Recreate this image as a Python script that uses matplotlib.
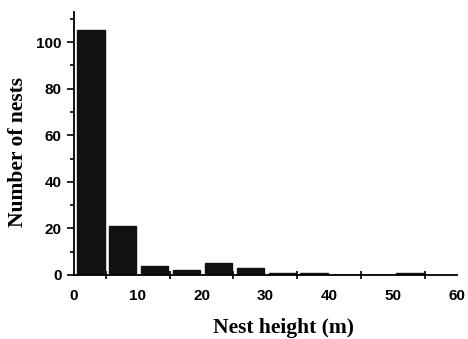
import matplotlib
matplotlib.use("Agg")
import matplotlib.pyplot as plt
from matplotlib.ticker import MultipleLocator, FixedLocator

# nest counts per 5 m height class
bin_starts = [0, 5, 10, 15, 20, 25, 30, 35, 40, 45, 50]
counts = [105, 21, 4, 2, 5, 3, 1, 1, 0, 0, 1]

fig = plt.figure(figsize=(4.68, 3.39), dpi=100)
ax = fig.add_axes([0.158, 0.189, 0.818, 0.776])

ax.bar([b + 0.5 for b in bin_starts], counts, width=4.3, align="edge",
       color="#111111", edgecolor="#111111")

ax.set_xlim(0, 60)
ax.set_ylim(0, 113)

ax.spines["top"].set_visible(False)
ax.spines["right"].set_visible(False)
for s in ("left", "bottom"):
    ax.spines[s].set_linewidth(1.3)

ax.xaxis.set_major_locator(MultipleLocator(10))
ax.xaxis.set_minor_locator(FixedLocator([5, 15, 25, 35, 45, 55]))
ax.yaxis.set_major_locator(MultipleLocator(20))
ax.yaxis.set_minor_locator(MultipleLocator(10))
ax.tick_params(axis="x", which="major", length=0, pad=10)
ax.tick_params(axis="x", which="minor", direction="inout", length=6, width=1.2)
ax.tick_params(axis="y", which="both", direction="out", width=1.2)
ax.tick_params(axis="y", which="major", length=5, pad=4)
ax.tick_params(axis="y", which="minor", length=3)

for lab in ax.get_xticklabels() + ax.get_yticklabels():
    lab.set_fontfamily("Liberation Sans")
    lab.set_fontweight("bold")
    lab.set_fontsize(11)

ax.set_xlabel("Nest height (m)", fontfamily="Liberation Serif",
              fontweight="bold", fontsize=15.5)
ax.set_ylabel("Number of nests", fontfamily="Liberation Serif",
              fontweight="bold", fontsize=15.5)
ax.xaxis.set_label_coords(0.548, -0.162)
ax.yaxis.set_label_coords(-0.12, 0.466)

fig.savefig("out.png", dpi=100)
